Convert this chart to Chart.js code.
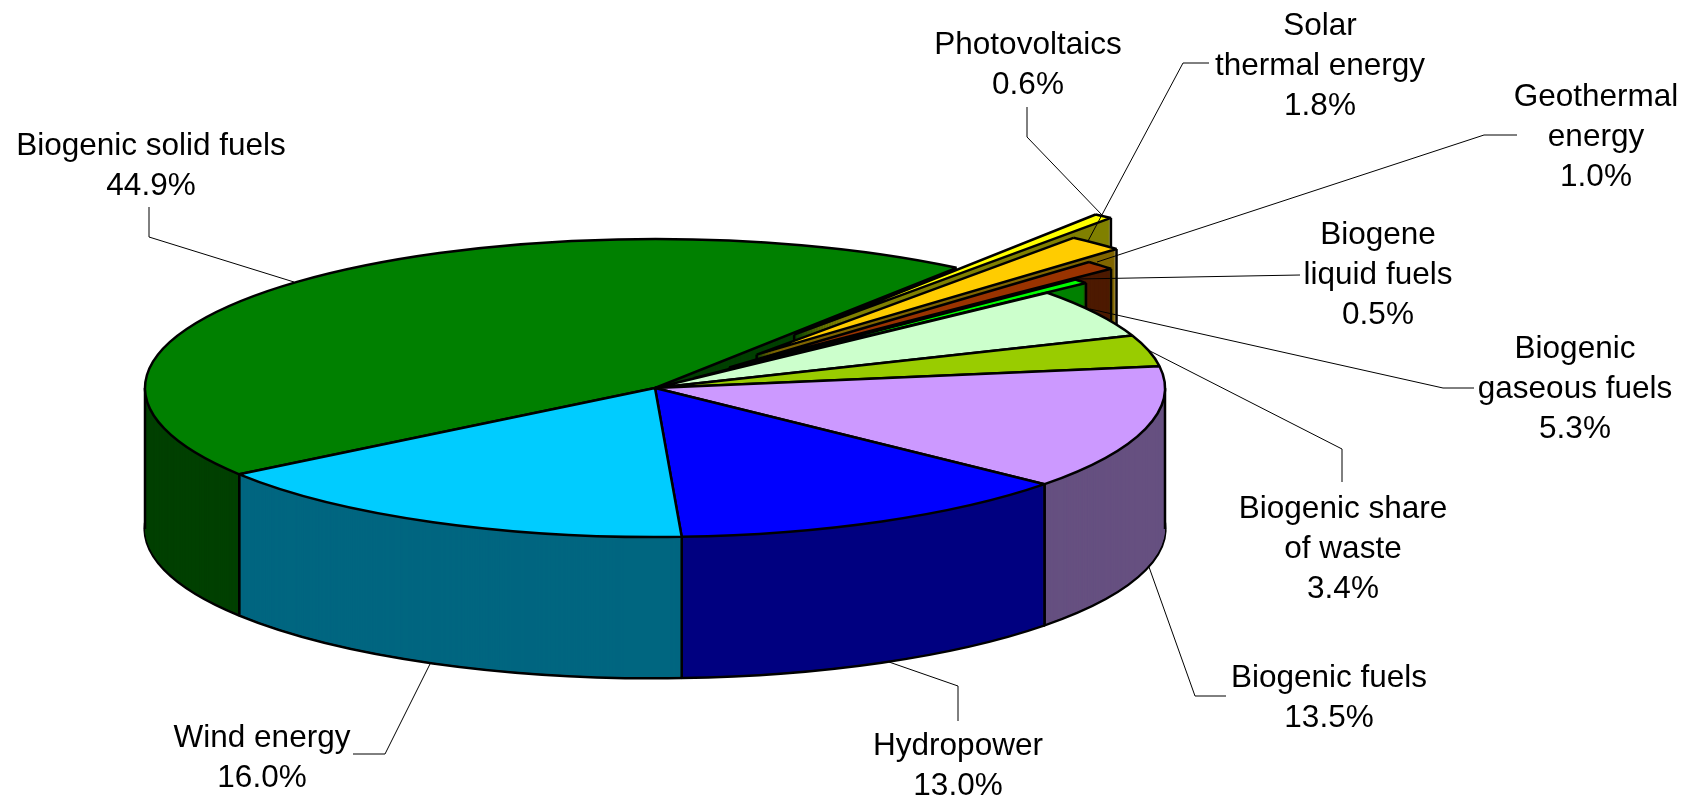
<!DOCTYPE html>
<html lang="en">

<head>
  <meta charset="UTF-8">
  <title>Renewable energy shares</title>
  <script src="https://cdn.jsdelivr.net/npm/chart.js"></script>
  <style>
    html, body { margin: 0; background: #fff; }
    canvas { display: block; }
  </style>
</head>

<body>
  <canvas id="pieChart" width="1688" height="799"></canvas>
  <script>
    // clockwise, starting from the big green slice
    const categories = ['Biogenic solid fuels', 'Photovoltaics', 'Solar thermal energy', 'Geothermal energy',
      'Biogene liquid fuels', 'Biogenic gaseous fuels', 'Biogenic share of waste', 'Biogenic fuels', 'Hydropower', 'Wind energy'];
    const shares = [44.9, 0.6, 1.8, 1.0, 0.5, 5.3, 3.4, 13.5, 13.0, 16.0];
    const topColors = ['#008000', '#FFFF00', '#FFCC00', '#993300', '#00FF00', '#CCFFCC', '#99CC00', '#CC99FF', '#0000FF', '#00CCFF'];
    const wallColors = ['#004000', '#808000', '#806600', '#4D1A00', '#008000', '#668066', '#4D6600', '#665080', '#000080', '#006680'];
    const explode = [0, 0.45, 0.30, 0.20, 0.10, 0, 0, 0, 0, 0];

    // label text lines, the last line of each is the share
    const labelLines = [
      ['Biogenic solid fuels'], ['Photovoltaics'], ['Solar', 'thermal energy'], ['Geothermal', 'energy'],
      ['Biogene', 'liquid fuels'], ['Biogenic', 'gaseous fuels'], ['Biogenic share', 'of waste'],
      ['Biogenic fuels'], ['Hydropower'], ['Wind energy']
    ];
    const labelCenterX = [151, 1028, 1320, 1596, 1378, 1575, 1343, 1329, 958, 262];
    const labelFirstY = [146, 45, 26, 97, 235, 349, 509, 678, 746, 738];
    const leaders = [
      [[149, 207], [149, 237], [294, 282]],
      [[1027, 107], [1027, 137], [1102, 215]],
      [[1209, 63], [1183, 63], [1088, 241]],
      [[1517, 135], [1484, 135], [1097, 262]],
      [[1300, 275], [1078, 279]],
      [[1474, 388], [1443, 388], [1090, 309]],
      [[1342, 482], [1342, 449], [1150, 351]],
      [[1226, 696], [1195, 696], [1149, 567]],
      [[958, 721], [958, 686], [889, 662]],
      [[353, 754], [385, 754], [431, 662]]
    ];

    const squash = 149 / 510;
    const depth = 141;
    const lineHeight = 40;

    function drawSlice(ctx, arc, i, dy, fill, border, width) {
      const mid = (arc.startAngle + arc.endAngle) / 2;
      const shift = explode[i] * arc.outerRadius;
      const saved = arc.options;
      arc.options = { ...saved, backgroundColor: fill, borderColor: border, borderWidth: width };
      ctx.save();
      ctx.translate(0, arc.y + dy);
      ctx.scale(1, squash);
      ctx.translate(0, -arc.y);
      ctx.translate(Math.cos(mid) * shift, Math.sin(mid) * shift);
      arc.draw(ctx);
      ctx.restore();
      arc.options = saved;
    }

    function drawEdge(ctx, arc, i, angle, radius) {
      const mid = (arc.startAngle + arc.endAngle) / 2;
      const shift = explode[i] * arc.outerRadius;
      const x = arc.x + Math.cos(angle) * radius + Math.cos(mid) * shift;
      const y = arc.y + (Math.sin(angle) * radius + Math.sin(mid) * shift) * squash;
      ctx.beginPath();
      ctx.moveTo(x, y);
      ctx.lineTo(x, y + depth);
      ctx.strokeStyle = '#000';
      ctx.lineWidth = 2.5;
      ctx.stroke();
    }

    const pie3d = {
      id: 'pie3d',
      beforeDatasetDraw(chart, args) {
        const ctx = chart.ctx;
        // strokes keep an even width, the path is already squashed when it gets here
        const plainStroke = ctx.stroke;
        ctx.stroke = function () {
          ctx.save();
          ctx.setTransform(1, 0, 0, 1, 0, 0);
          plainStroke.call(ctx);
          ctx.restore();
        };
        args.meta.data.forEach((arc, i) => {
          drawSlice(ctx, arc, i, depth, wallColors[i], '#000', 3);
          for (let dy = depth - 1; dy > 0; dy--) {
            drawSlice(ctx, arc, i, dy, wallColors[i], wallColors[i], 0);
          }
          if (explode[i] > 0) {
            drawEdge(ctx, arc, i, arc.endAngle, arc.outerRadius);
            drawEdge(ctx, arc, i, arc.endAngle, 0);
          } else {
            [arc.startAngle, arc.endAngle].forEach((a) => {
              if (Math.sin(a) > 0) drawEdge(ctx, arc, i, a, arc.outerRadius);
            });
            for (let k = 1; k < 4; k++) {
              const a = k * Math.PI;
              if (a > arc.startAngle && a < arc.endAngle) drawEdge(ctx, arc, i, a, arc.outerRadius);
            }
          }
          drawSlice(ctx, arc, i, 0, topColors[i], '#000', 2.5);
        });
        delete ctx.stroke;
        return false;
      },
      afterDraw(chart) {
        const ctx = chart.ctx;
        ctx.save();
        ctx.strokeStyle = '#000';
        ctx.lineWidth = 1;
        leaders.forEach((pts) => {
          ctx.beginPath();
          pts.forEach((p, n) => (n ? ctx.lineTo(p[0], p[1]) : ctx.moveTo(p[0], p[1])));
          ctx.stroke();
        });
        ctx.fillStyle = '#000';
        ctx.font = '31.5px "Liberation Sans"';
        ctx.textAlign = 'center';
        ctx.textBaseline = 'middle';
        labelLines.forEach((lines, i) => {
          const all = lines.concat(shares[i].toFixed(1) + '%');
          all.forEach((t, n) => ctx.fillText(t, labelCenterX[i], labelFirstY[i] + n * lineHeight));
        });
        ctx.restore();
      }
    };

    new Chart(document.getElementById('pieChart'), {
      type: 'pie',
      data: {
        labels: categories,
        datasets: [{ data: shares, backgroundColor: topColors, borderColor: '#000', borderWidth: 2 }]
      },
      options: {
        responsive: false,
        animation: false,
        rotation: 234.6,
        radius: 510,
        layout: { padding: { right: 378, bottom: 23 } },
        plugins: { legend: { display: false }, tooltip: { enabled: false } }
      },
      plugins: [pie3d]
    });
  </script>
</body>

</html>
